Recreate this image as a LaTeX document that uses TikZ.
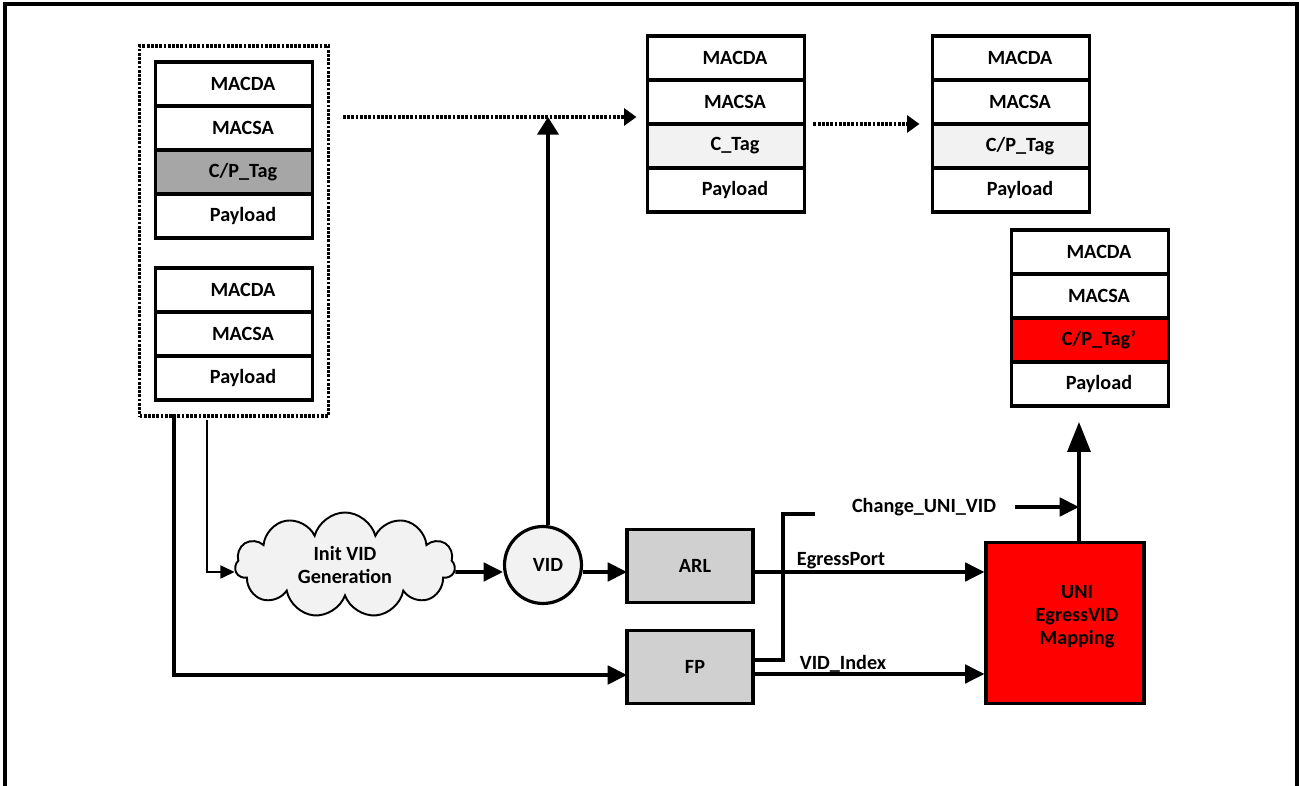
\documentclass[tikz,border=0pt]{standalone}
\usepackage{fontspec}
\setmainfont{Carlito}
\usetikzlibrary{positioning,fit,shapes.symbols,arrows.meta}

\definecolor{tagdark}{HTML}{A6A6A6}
\definecolor{taglight}{HTML}{F2F2F2}
\definecolor{blockgray}{HTML}{D0D0D0}
\definecolor{tagred}{HTML}{FF0000}

\tikzset{
  txt/.style={font=\fontsize{11.5}{13}\selectfont\bfseries},
  field/.style={txt, draw, line width=1.8pt, fill=white, minimum width=3.14cm,
    minimum height=0.88cm, outer sep=0pt, execute at begin node={\hspace*{3.6mm}}},
  dotbox/.style={draw, line width=2.2pt, dash pattern=on 1.6pt off 0.8pt, inner sep=0.32cm},
  block/.style={txt, draw, line width=1.8pt, fill=blockgray, minimum width=2.52cm,
    minimum height=1.45cm, outer sep=0pt, execute at begin node={\hspace*{2mm}}},
  lbl/.style={txt, inner sep=0pt},
  arr/.style={line width=2pt, -{Triangle[length=11pt,width=10.5pt]}},
  thinarr/.style={line width=0.7pt, -{Triangle[length=8pt,width=7.5pt]}},
  bigarr/.style={line width=2pt, -{Triangle[length=17pt,width=13pt]}},
  dotarr/.style={line width=2.2pt, dash pattern=on 1.6pt off 0.8pt, -{Triangle[length=7pt,width=9.5pt]}}
}

\begin{document}
\begin{tikzpicture}[x=0.02cm, y=-0.02cm]
  % Fix the page to the size of the reference
  \useasboundingbox (0,0) rectangle (1299,786);

  % Draw outer frame, open at the bottom
  \draw[line width=1.8pt] (5,786) -- (5,4) -- (1297,4) -- (1297,786);

  % Draw incoming frames: tagged one on top, untagged one below
  \node[field, anchor=north] (a1) at (234,62) {MACDA};
  \node[field, below=0pt of a1] (a2) {MACSA};
  \node[field, below=0pt of a2, fill=tagdark] (a3) {C/P\_Tag};
  \node[field, below=0pt of a3] (a4) {Payload};

  \node[field, anchor=north] (b1) at (234,268) {MACDA};
  \node[field, below=0pt of b1] (b2) {MACSA};
  \node[field, below=0pt of b2] (b3) {Payload};

  % Draw dotted box around both incoming frames
  \node[dotbox, fit=(a1)(b3)] (src) {};

  % Draw frame with C_Tag
  \node[field, anchor=north] (c1) at (726,36) {MACDA};
  \node[field, below=0pt of c1] (c2) {MACSA};
  \node[field, below=0pt of c2, fill=taglight] (c3) {C\_Tag};
  \node[field, below=0pt of c3] (c4) {Payload};

  % Draw frame with C/P_Tag
  \node[field, anchor=north] (d1) at (1011,36) {MACDA};
  \node[field, below=0pt of d1] (d2) {MACSA};
  \node[field, below=0pt of d2, fill=taglight] (d3) {C/P\_Tag};
  \node[field, below=0pt of d3] (d4) {Payload};

  % Draw outgoing frame with new tag
  \node[field, anchor=north] (e1) at (1090,230) {MACDA};
  \node[field, below=0pt of e1] (e2) {MACSA};
  \node[field, below=0pt of e2, fill=tagred] (e3) {C/P\_Tag’};
  \node[field, below=0pt of e3] (e4) {Payload};

  % Draw processing blocks
  \node[txt, cloud, draw, line width=1.1pt, fill=taglight, cloud puffs=11, aspect=2.1,
    minimum width=4.4cm, minimum height=2.1cm, align=center] (gen) at (345,565) {Init VID\\Generation};
  \node[txt, circle, draw, line width=1.8pt, fill=taglight, minimum size=1.54cm,
    execute at begin node={\hspace*{2mm}}] (vid) at (543,565) {VID};
  \node[block] (arl) at (690,566) {ARL};
  \node[block] (fp) at (690,667) {FP};
  \node[draw, line width=1.8pt, fill=tagred, minimum width=3.16cm, minimum height=3.22cm] (uni) at (1065,623) {};
  \node[txt, align=center] (unitxt) at (1077,617) {UNI\\EgressVID\\Mapping};

  % Labels on the connectors
  \node[lbl] (egl) at (841,561) {EgressPort};
  \node[lbl] (vil) at (843,664) {VID\_Index};
  \node[lbl] (chg) at (924,507) {Change\_UNI\_VID};

  % Helper points for bends and free ends
  \coordinate (dotstart) at (343,117);
  \coordinate (drop) at (174,414);
  \coordinate (tap) at (207,420);
  \coordinate (bend) at (783,514);
  \coordinate (bendend) at (815,514);
  \coordinate (out) at (1079,543);

  % Draw connectors
  \draw[thinarr] (tap) |- ([yshift=-1.4mm]gen.west);
  \draw[arr] ([yshift=-1.4mm]gen.east) -- ([yshift=-1.4mm]vid.west);
  \draw[arr] ([yshift=-1.4mm]vid.east) -- ([yshift=-1.2mm]arl.west);
  \draw[arr] (drop) |- ([yshift=-1.6mm]fp.west);
  \draw[arr] ([yshift=-1.2mm]arl.east) -- ([yshift=-1.2mm]arl.east -| uni.west);
  \draw[arr] ([yshift=-1.4mm]fp.east) -- ([yshift=-1.4mm]fp.east -| uni.west);
  \draw[line width=2pt] ([yshift=1.4mm]fp.east) -| (bend) -- (bendend);
  \draw[arr] ([xshift=3.8mm]chg.east) -- (chg.east -| out);
  \draw[bigarr, shorten >=3.2mm] (out) -- (out |- e4.south);
  \draw[arr, -{Triangle[length=10pt,width=12pt]}] (vid.north -| 548,0) -- (dotstart -| 548,0);
  \draw[dotarr] (dotstart) -- ([xshift=-2.2mm]dotstart -| c2.west);
  \draw[dotarr, shorten <=1.8mm, shorten >=2.6mm] (c2.south east) -- (d2.south west);
\end{tikzpicture}
\end{document}
